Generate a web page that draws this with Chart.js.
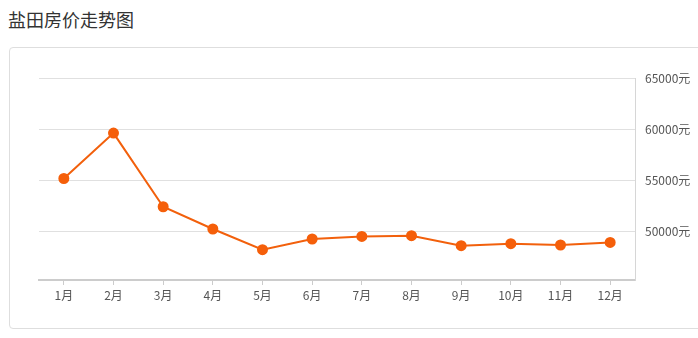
<!DOCTYPE html>
<html>
<head>
<meta charset="utf-8">
<script src="https://cdn.jsdelivr.net/npm/chart.js@4/dist/chart.umd.min.js"></script>
<style>
  html, body { margin: 0; padding: 0; background: #fff; }
  body { width: 698px; height: 338px; position: relative; overflow: hidden; font-family: "Noto Sans CJK SC", "Noto Sans", sans-serif; }
  #title { position: absolute; left: 8px; top: 6px; font-size: 18px; color: #333; line-height: 26px; }
  #card { position: absolute; left: 9px; top: 47px; width: 694px; height: 282px; border: 1px solid #dedede; border-radius: 4px; box-sizing: border-box; }
  #wrap { position: absolute; left: 0; top: 0; width: 698px; height: 338px; }
</style>
</head>
<body>
<div id="title">盐田房价走势图</div>
<div id="card"></div>
<div id="wrap"><canvas id="c" width="698" height="338"></canvas></div>
<script>
const categories = ["1月","2月","3月","4月","5月","6月","7月","8月","9月","10月","11月","12月"];
const prices = [55150, 59600, 52380, 50200, 48170, 49220, 49470, 49540, 48560, 48760, 48630, 48880];
const yTicks = [50000, 55000, 60000, 65000];
const yUnit = "元";

new Chart(document.getElementById('c'), {
  type: 'line',
  data: {
    labels: categories,
    datasets: [{
      data: prices,
      borderColor: '#f2600c',
      backgroundColor: '#f55f0a',
      pointBackgroundColor: '#f55f0a',
      pointBorderColor: '#f55f0a',
      borderWidth: 2,
      pointRadius: 4.5,
      pointHoverRadius: 4.5,
      tension: 0,
      fill: false
    }]
  },
  options: {
    responsive: false,
    animation: false,
    events: [],
    layout: { padding: { left: 39, top: 78, right: 0, bottom: 0 } },
    plugins: { legend: { display: false }, tooltip: { enabled: false }, title: { display: false } },
    scales: {
      x: {
        type: 'category',
        offset: true,
        grid: { display: true, offset: false, drawOnChartArea: false, drawTicks: true, tickLength: 5, color: '#cccccc' },
        border: { display: true, color: '#cccccc', width: 2 },
        ticks: { color: '#555', font: { family: '"Noto Sans CJK SC", sans-serif', size: 12 }, padding: 3, maxRotation: 0, autoSkip: false },
        afterFit: (s) => { s.height = 58; }
      },
      y: {
        position: 'right',
        min: 45200,
        max: 65000,
        afterBuildTicks: (s) => { s.ticks = yTicks.map(v => ({ value: v })); },
        grid: { color: '#e0e0e0', drawTicks: false, lineWidth: 1 },
        border: { display: true, color: '#d6d6d6', width: 1 },
        ticks: { color: '#555', font: { family: '"Noto Sans CJK SC", sans-serif', size: 12 }, padding: 10, callback: (v) => v + yUnit },
        afterFit: (s) => { s.width = 63; }
      }
    }
  }
});
</script>
</body>
</html>
